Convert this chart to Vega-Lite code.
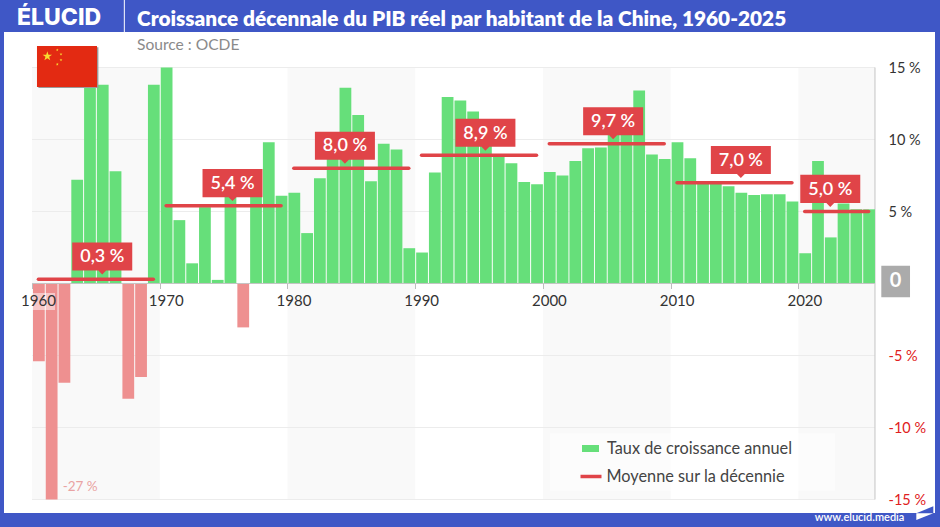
{
"$schema":"https://vega.github.io/schema/vega-lite/v6.json",
"width":931,"height":481,
"autosize":{"type":"none"},
"padding":{"left":4,"top":32,"right":5,"bottom":14},
"background":"#3F57C6",
"config":{"view":{"fill":"#ffffff","stroke":null},"font":"Lato"},
"title":{"text":"Croissance décennale du PIB réel par habitant de la Chine, 1960-2025","subtitle":"Source : OCDE","anchor":"start","frame":"group","dx":133,"offset":-55,"font":"Lato","fontSize":20.8,"fontWeight":800,"color":"#ffffff","subtitleFont":"Lato","subtitleFontSize":15.6,"subtitleColor":"#8a8a8a","subtitlePadding":7},
"datasets":{
"one":[{}],
"years":[
{"year":1960,"end":1961,"value":-5.4},{"year":1961,"end":1962,"value":-15},{"year":1962,"end":1963,"value":-6.9},{"year":1963,"end":1964,"value":7.2},{"year":1964,"end":1965,"value":13.8},{"year":1965,"end":1966,"value":13.8},{"year":1966,"end":1967,"value":7.8},{"year":1967,"end":1968,"value":-8.0},{"year":1968,"end":1969,"value":-6.5},{"year":1969,"end":1970,"value":13.8},
{"year":1970,"end":1971,"value":15},{"year":1971,"end":1972,"value":4.4},{"year":1972,"end":1973,"value":1.4},{"year":1973,"end":1974,"value":5.3},{"year":1974,"end":1975,"value":0.25},{"year":1975,"end":1976,"value":6.7},{"year":1976,"end":1977,"value":-3.05},{"year":1977,"end":1978,"value":6.2},{"year":1978,"end":1979,"value":9.8},{"year":1979,"end":1980,"value":6.1},
{"year":1980,"end":1981,"value":6.3},{"year":1981,"end":1982,"value":3.5},{"year":1982,"end":1983,"value":7.3},{"year":1983,"end":1984,"value":9.3},{"year":1984,"end":1985,"value":13.6},{"year":1985,"end":1986,"value":11.7},{"year":1986,"end":1987,"value":7.1},{"year":1987,"end":1988,"value":9.7},{"year":1988,"end":1989,"value":9.3},{"year":1989,"end":1990,"value":2.45},
{"year":1990,"end":1991,"value":2.15},{"year":1991,"end":1992,"value":7.7},{"year":1992,"end":1993,"value":12.95},{"year":1993,"end":1994,"value":12.7},{"year":1994,"end":1995,"value":11.95},{"year":1995,"end":1996,"value":9.8},{"year":1996,"end":1997,"value":8.9},{"year":1997,"end":1998,"value":8.35},{"year":1998,"end":1999,"value":7.05},{"year":1999,"end":2000,"value":6.9},
{"year":2000,"end":2001,"value":7.75},{"year":2001,"end":2002,"value":7.5},{"year":2002,"end":2003,"value":8.5},{"year":2003,"end":2004,"value":9.4},{"year":2004,"end":2005,"value":9.45},{"year":2005,"end":2006,"value":10.7},{"year":2006,"end":2007,"value":12.0},{"year":2007,"end":2008,"value":13.4},{"year":2008,"end":2009,"value":8.95},{"year":2009,"end":2010,"value":8.65},
{"year":2010,"end":2011,"value":9.8},{"year":2011,"end":2012,"value":8.7},{"year":2012,"end":2013,"value":7.1},{"year":2013,"end":2014,"value":6.95},{"year":2014,"end":2015,"value":6.75},{"year":2015,"end":2016,"value":6.3},{"year":2016,"end":2017,"value":6.15},{"year":2017,"end":2018,"value":6.2},{"year":2018,"end":2019,"value":6.2},{"year":2019,"end":2020,"value":5.7},
{"year":2020,"end":2021,"value":2.1},{"year":2021,"end":2022,"value":8.5},{"year":2022,"end":2023,"value":3.2},{"year":2023,"end":2024,"value":5.55},{"year":2024,"end":2025,"value":5.15},{"year":2025,"end":2026,"value":5.15}],
"decades":[
{"start":1960.5,"stop":1969.5,"avg":0.3,"center":1965.5,"label":"0,3 %"},
{"start":1970.5,"stop":1979.5,"avg":5.4,"center":1975.7,"label":"5,4 %"},
{"start":1980.5,"stop":1989.5,"avg":8.0,"center":1984.5,"label":"8,0 %"},
{"start":1990.5,"stop":1999.5,"avg":8.9,"center":1995.5,"label":"8,9 %"},
{"start":2000.5,"stop":2009.5,"avg":9.7,"center":2005.5,"label":"9,7 %"},
{"start":2010.5,"stop":2019.5,"avg":7.0,"center":2015.5,"label":"7,0 %"},
{"start":2020.5,"stop":2025.5,"avg":5.0,"center":2022.5,"label":"5,0 %"}],
"bands":[{"from":1960,"to":1970},{"from":1980,"to":1990},{"from":2000,"to":2010},{"from":2020,"to":2026}],
"grid":[{"g":15},{"g":10},{"g":5},{"g":-5},{"g":-10},{"g":-15}],
"stars":[{"sx":1961.2,"sy":15.78,"s":100},{"sx":1961.98,"sy":16.22,"s":9},{"sx":1962.27,"sy":15.92,"s":9},{"sx":1962.27,"sy":15.52,"s":9},{"sx":1961.98,"sy":15.22,"s":9}]
},
"layer":[
{"data":{"name":"bands"},"mark":{"type":"rect","color":"#f9f9f9"},
 "encoding":{
  "x":{"field":"from","type":"quantitative","scale":{"domain":[1957.808,2030.70],"nice":false,"zero":false},
   "axis":{"title":null,"orient":"bottom","offset":-229.5,"values":[1960,1970,1980,1990,2000,2010,2020],"format":"d","grid":false,"domain":false,"tickColor":"#bdbdbd","tickSize":5,"labelOffset":6,"labelPadding":5,"labelFontSize":15,"labelColor":"#333333","labelFlush":false,"labelOverlap":false,"zindex":1}},
  "x2":{"field":"to"},
  "y":{"datum":15,"type":"quantitative","scale":{"domain":[-15.94,17.465],"nice":false,"zero":false},
   "axis":{"title":null,"orient":"right","offset":-60,"values":[15,10,5,-5,-10,-15],"grid":false,"domain":false,"ticks":false,"labelPadding":13,"labelAlign":"left","labelFontSize":14.5,"labelOffset":1,"labelExpr":"datum.value + ' %'","labelColor":{"condition":{"test":"datum.value < 0","value":"#e02020"},"value":"#333333"},"labelOverlap":false,"labelFlush":false,"zindex":1}},
  "y2":{"datum":-15}
 }},
{"data":{"name":"grid"},"mark":{"type":"rule","color":"#ececec","strokeWidth":1},
 "encoding":{"x":{"datum":1960,"type":"quantitative"},"x2":{"datum":2026},"y":{"field":"g","type":"quantitative"}}},
{"data":{"name":"one"},"mark":{"type":"rule","color":"#c4c4c4","strokeWidth":1},
 "encoding":{"x":{"datum":2026,"type":"quantitative"},"y":{"datum":15,"type":"quantitative"},"y2":{"datum":-15}}},
{"data":{"name":"years"},"transform":[{"filter":"datum.value >= 0"}],"mark":{"type":"bar","binSpacing":1},
 "encoding":{"x":{"field":"year","type":"quantitative","bin":"binned"},"x2":{"field":"end"},"y":{"field":"value","type":"quantitative"},
  "color":{"datum":"Taux de croissance annuel","scale":{"domain":["Taux de croissance annuel"],"range":["#66DF7A"]},
   "legend":{"title":null,"orient":"none","legendX":577,"legendY":407,"symbolType":"M-1,-0.41H1V0.41H-1Z","symbolSize":289,"symbolOpacity":1,"labelFontSize":16.3,"labelLimit":400,"labelColor":"#444444","labelOffset":7,"padding":0,"rowPadding":0}}}},
{"data":{"name":"years"},"transform":[{"filter":"datum.value < 0"}],"mark":{"type":"bar","binSpacing":1,"color":"#EE9090"},
 "encoding":{"x":{"field":"year","type":"quantitative","bin":"binned"},"x2":{"field":"end"},"y":{"field":"value","type":"quantitative"}}},
{"data":{"name":"one"},"mark":{"type":"rule","color":"#c4c4c4","strokeWidth":1},
 "encoding":{"x":{"datum":1960,"type":"quantitative"},"x2":{"datum":2026},"y":{"datum":0,"type":"quantitative"}}},
{"data":{"name":"one"},"mark":{"type":"rect","color":"#ffffff","opacity":0.5},
 "encoding":{"x":{"datum":1960,"type":"quantitative"},"x2":{"datum":1961.8},"y":{"datum":-0.66,"type":"quantitative"},"y2":{"datum":-1.85}}},
{"data":{"name":"decades"},"mark":{"type":"rule","strokeWidth":3.5,"strokeCap":"round"},
 "encoding":{"x":{"field":"start","type":"quantitative"},"x2":{"field":"stop"},"y":{"field":"avg","type":"quantitative"},
  "stroke":{"datum":"Moyenne sur la décennie","scale":{"domain":["Moyenne sur la décennie"],"range":["#E04448"]},
   "legend":{"title":null,"orient":"none","legendX":574.5,"legendY":432,"symbolType":"stroke","symbolSize":441,"symbolStrokeWidth":3.5,"labelFontSize":16.3,"labelLimit":400,"labelColor":"#444444","labelOffset":3,"padding":0}}}},
{"data":{"name":"decades"},"mark":{"type":"point","filled":true,"opacity":1,"color":"#E04448","shape":"M-1,-0.467H1V0.467H0.13L0,0.6L-0.13,0.467H-1Z","size":3600,"yOffset":-22.6},
 "encoding":{"x":{"field":"center","type":"quantitative"},"y":{"field":"avg","type":"quantitative"}}},
{"data":{"name":"decades"},"mark":{"type":"text","color":"#ffffff","fontSize":18,"fontWeight":600,"yOffset":-21.8,"align":"center","baseline":"middle"},
 "encoding":{"x":{"field":"center","type":"quantitative"},"y":{"field":"avg","type":"quantitative"},"text":{"field":"label"}}},
{"data":{"name":"one"},"mark":{"type":"rect","color":"#ffffff","opacity":0.55},
 "encoding":{"x":{"datum":2000.55,"type":"quantitative"},"x2":{"datum":2022.87},"y":{"datum":-10.4,"type":"quantitative"},"y2":{"datum":-14.4}}},
{"data":{"name":"one"},"mark":{"type":"text","text":"-27 %","color":"#E9A3A3","fontSize":13.5,"align":"left","baseline":"middle"},
 "encoding":{"x":{"datum":1962.4,"type":"quantitative"},"y":{"datum":-14.1,"type":"quantitative"}}},
{"data":{"name":"one"},"mark":{"type":"point","filled":true,"opacity":1,"color":"#ababab","shape":"M-1,-1.1H1V1.1H-1Z","size":824},
 "encoding":{"x":{"datum":2027.62,"type":"quantitative"},"y":{"datum":0.14,"type":"quantitative"}}},
{"data":{"name":"one"},"mark":{"type":"text","text":"0","color":"#ffffff","fontSize":20,"fontWeight":700,"align":"center","baseline":"middle"},
 "encoding":{"x":{"datum":2027.62,"type":"quantitative"},"y":{"datum":0.14,"type":"quantitative"}}},
{"data":{"name":"one"},"mark":{"type":"rect","color":"#9a9a9a"},
 "encoding":{"x":{"datum":1960.5,"type":"quantitative"},"x2":{"datum":1965.2},"y":{"datum":16.41,"type":"quantitative"},"y2":{"datum":13.57}}},
{"data":{"name":"one"},"mark":{"type":"rect","color":"#E32A12"},
 "encoding":{"x":{"datum":1960.39,"type":"quantitative"},"x2":{"datum":1965.09},"y":{"datum":16.49,"type":"quantitative"},"y2":{"datum":13.65}}},
{"data":{"name":"stars"},"mark":{"type":"point","filled":true,"opacity":1,"color":"#F8DC30","shape":"M0,-1L0.225,-0.309L0.951,-0.309L0.363,0.118L0.588,0.809L0,0.382L-0.588,0.809L-0.363,0.118L-0.951,-0.309L-0.225,-0.309Z"},
 "encoding":{"x":{"field":"sx","type":"quantitative"},"y":{"field":"sy","type":"quantitative"},"size":{"field":"s","type":"quantitative","scale":null,"legend":null}}},
{"data":{"name":"one"},"mark":{"type":"rule","color":"#ffffff","strokeWidth":1},
 "encoding":{"x":{"datum":1967.23,"type":"quantitative"},"y":{"datum":19.69,"type":"quantitative"},"y2":{"datum":17.465}}},
{"data":{"name":"one"},"mark":{"type":"text","text":"ÉLUCID","font":"Inter","color":"#ffffff","fontSize":23,"fontWeight":800,"align":"left","baseline":"alphabetic"},
 "encoding":{"x":{"datum":1958.83,"type":"quantitative"},"y":{"datum":17.95,"type":"quantitative"}}},
{"data":{"name":"one"},"mark":{"type":"text","text":"www.elucid.media","color":"#ffffff","fontSize":11,"fontWeight":600,"align":"right","baseline":"middle"},
 "encoding":{"x":{"datum":2028.3,"type":"quantitative"},"y":{"datum":-16.3,"type":"quantitative"}}},
{"data":{"name":"one"},"mark":{"type":"point","filled":true,"opacity":1,"color":"#3F57C6","shape":"M-1,0L1,-0.8L1,0Z","size":289},
 "encoding":{"x":{"datum":2029.9,"type":"quantitative"},"y":{"datum":-15.95,"type":"quantitative"}}},
{"data":{"name":"one"},"mark":{"type":"point","filled":true,"opacity":1,"color":"#ffffff","shape":"M-1,0L1,0L-1,0.8Z","size":289},
 "encoding":{"x":{"datum":2029.9,"type":"quantitative"},"y":{"datum":-15.95,"type":"quantitative"}}}
]
}
